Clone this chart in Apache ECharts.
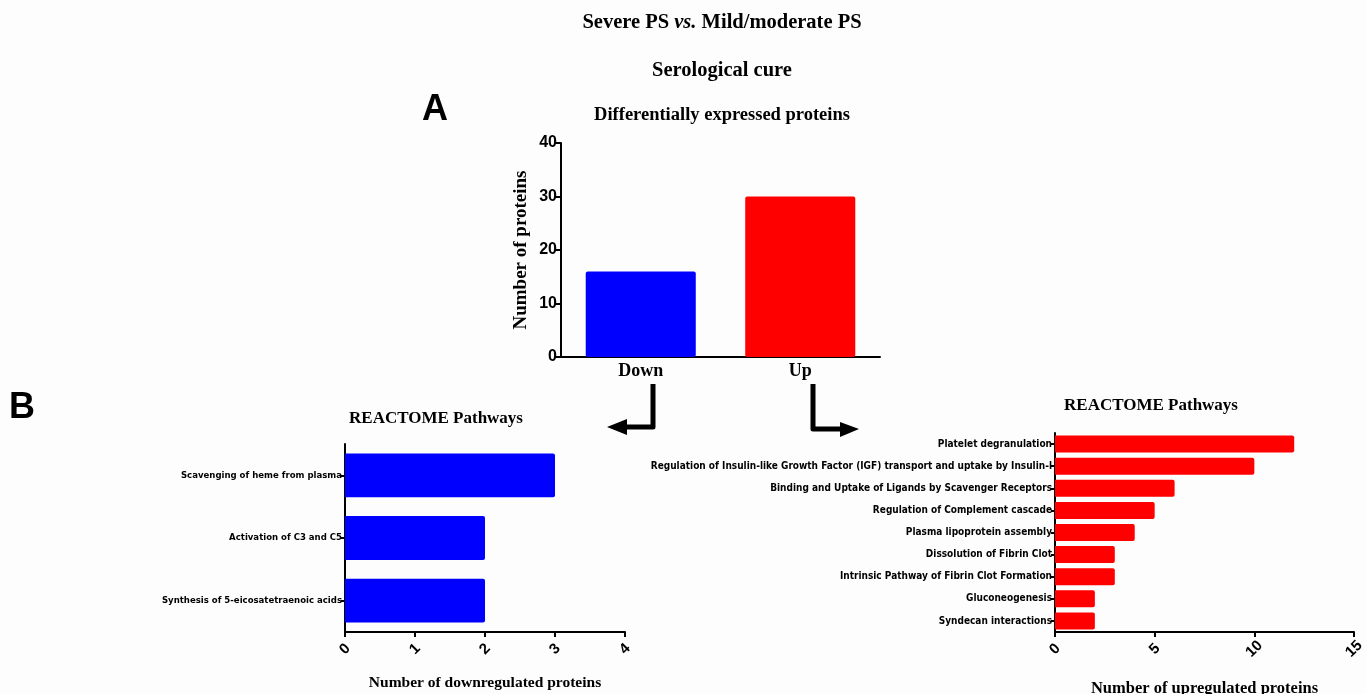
<!DOCTYPE html>
<html>
<head>
<meta charset="utf-8">
<script src="https://cdn.jsdelivr.net/npm/echarts@6/dist/echarts.min.js"></script>
<style>html,body{margin:0;padding:0;background:#fff;}#c{width:1367px;height:694px;}</style>
</head>
<body>
<div id="c"></div>
<script>
// Panel A data
const deCategories = ['Down', 'Up'];
const deValues = [16, 30];
const deColors = ['#0000ff', '#ff0000'];
const deTicks = [0, 10, 20, 30, 40];

// Panel B left (downregulated)
const downPathways = ['Scavenging of heme from plasma', 'Activation of C3 and C5', 'Synthesis of 5-eicosatetraenoic acids'];
const downCounts = [3, 2, 2];
const downTicks = [0, 1, 2, 3, 4];

// Panel B right (upregulated)
const upPathways = ['Platelet degranulation',
  'Regulation of Insulin-like Growth Factor (IGF) transport and uptake by Insulin-l',
  'Binding and Uptake of Ligands by Scavenger Receptors',
  'Regulation of Complement cascade',
  'Plasma lipoprotein assembly',
  'Dissolution of Fibrin Clot',
  'Intrinsic Pathway of Fibrin Clot Formation',
  'Gluconeogenesis',
  'Syndecan interactions'];
const upCounts = [12, 10, 6, 5, 4, 3, 3, 2, 2];
const upTicks = [0, 5, 10, 15];

const serif = '"Liberation Serif", "Times New Roman", serif';
const sans = '"Liberation Sans", Arial, sans-serif';
const narrow = '"Liberation Sans Narrow", "DejaVu Sans Condensed", "Liberation Sans", sans-serif';

const axisLine = { show: true, lineStyle: { color: '#000', width: 2 } };
const axisTick = { show: true, lineStyle: { color: '#000', width: 2 }, length: 5 };

const chart = echarts.init(document.getElementById('c'), null, { renderer: 'canvas' });

function titleAt(text, x, y, size, rich) {
  return {
    text: text, left: x - 5, top: y, textAlign: 'center',
    textStyle: { fontFamily: serif, fontWeight: 'bold', fontSize: size, color: '#000', rich: rich }
  };
}

const rotLabel = { rotate: 45, align: 'center', verticalAlign: 'middle', fontFamily: sans, fontWeight: 'bold',
  fontSize: 15, color: '#000', margin: 17 };

const option = {
  backgroundColor: '#fdfdfd',
  animation: false,
  title: [
    titleAt('Severe PS {i|vs.} Mild/moderate PS', 722, 7, 20.5, {
      i: { fontFamily: serif, fontStyle: 'italic', fontWeight: 'bold', fontSize: 20.5, color: '#000' }
    }),
    titleAt('Serological cure', 722, 55, 20.5),
    titleAt('Differentially expressed proteins', 722, 101, 18.5),
    titleAt('REACTOME Pathways', 436, 405, 17),
    titleAt('REACTOME Pathways', 1151, 392, 17),
    { text: 'A', left: 430, top: 87, textAlign: 'center',
      textStyle: { fontFamily: sans, fontWeight: 'bold', fontSize: 36, color: '#000' } },
    { text: 'B', left: 17, top: 385, textAlign: 'center',
      textStyle: { fontFamily: sans, fontWeight: 'bold', fontSize: 36, color: '#000' } }
  ],
  grid: [
    { left: 561, top: 143, width: 319, height: 214, containLabel: false, outerBoundsMode: 'none' },
    { left: 345, top: 444, width: 280, height: 188, containLabel: false, outerBoundsMode: 'none' },
    { left: 1055, top: 433, width: 299, height: 199, containLabel: false, outerBoundsMode: 'none' }
  ],
  xAxis: [
    { gridIndex: 0, type: 'category', data: deCategories,
      axisLine: axisLine, axisTick: { show: false },
      axisLabel: { fontFamily: serif, fontWeight: 'bold', fontSize: 18, color: '#000', margin: 5 } },
    { gridIndex: 1, type: 'value', min: downTicks[0], max: downTicks[downTicks.length - 1], interval: 1,
      splitLine: { show: false }, axisLine: axisLine, axisTick: axisTick, axisLabel: rotLabel,
      name: 'Number of downregulated proteins', nameLocation: 'middle', nameGap: 43,
      nameTextStyle: { fontFamily: serif, fontWeight: 'bold', fontSize: 15.5, color: '#000' } },
    { gridIndex: 2, type: 'value', min: upTicks[0], max: upTicks[upTicks.length - 1], interval: 5,
      splitLine: { show: false }, axisLine: axisLine, axisTick: axisTick, axisLabel: rotLabel,
      name: 'Number of upregulated proteins', nameLocation: 'middle', nameGap: 48,
      nameTextStyle: { fontFamily: serif, fontWeight: 'bold', fontSize: 16.5, color: '#000' } }
  ],
  yAxis: [
    { gridIndex: 0, type: 'value', min: deTicks[0], max: deTicks[deTicks.length - 1], interval: 10,
      splitLine: { show: false }, axisLine: axisLine, axisTick: axisTick,
      axisLabel: { fontFamily: sans, fontWeight: 'bold', fontSize: 16, color: '#000', margin: 4 },
      name: 'Number of proteins', nameLocation: 'middle', nameGap: 30,
      nameTextStyle: { fontFamily: serif, fontWeight: 'bold', fontSize: 19, color: '#000' } },
    { gridIndex: 1, type: 'category', data: downPathways, inverse: true,
      axisLine: axisLine, axisTick: { show: true, alignWithLabel: true, length: 4, lineStyle: { color: '#000', width: 2 } },
      axisLabel: { fontFamily: narrow, fontWeight: 'bold', fontSize: 9.5, color: '#000', margin: 3 } },
    { gridIndex: 2, type: 'category', data: upPathways, inverse: true,
      axisLine: axisLine, axisTick: { show: true, alignWithLabel: true, length: 4, lineStyle: { color: '#000', width: 2 } },
      axisLabel: { fontFamily: narrow, fontWeight: 'bold', fontSize: 10, color: '#000', margin: 3 } }
  ],
  series: [
    { type: 'bar', xAxisIndex: 0, yAxisIndex: 0, barWidth: '69%',
      itemStyle: { borderRadius: 2 },
      data: deValues.map((v, i) => ({ value: v, itemStyle: { color: deColors[i] } })) },
    { type: 'bar', xAxisIndex: 1, yAxisIndex: 1, barWidth: '70%',
      itemStyle: { color: '#0000ff', borderRadius: [0, 2, 2, 0] }, data: downCounts },
    { type: 'bar', xAxisIndex: 2, yAxisIndex: 2, barWidth: '77%',
      itemStyle: { color: '#ff0000', borderRadius: [0, 2, 2, 0] }, data: upCounts }
  ],
  graphic: [
    { type: 'polyline', shape: { points: [[653, 384], [653, 427], [624, 427]] },
      style: { stroke: '#000', lineWidth: 5, fill: null, lineJoin: 'round' } },
    { type: 'polygon', shape: { points: [[607, 427], [627, 419], [627, 435]] }, style: { fill: '#000' } },
    { type: 'polyline', shape: { points: [[813, 384], [813, 429], [843, 429]] },
      style: { stroke: '#000', lineWidth: 5, fill: null, lineJoin: 'round' } },
    { type: 'polygon', shape: { points: [[859, 429], [840, 422], [840, 437]] }, style: { fill: '#000' } }
  ]
};
chart.setOption(option);
</script>
</body>
</html>
